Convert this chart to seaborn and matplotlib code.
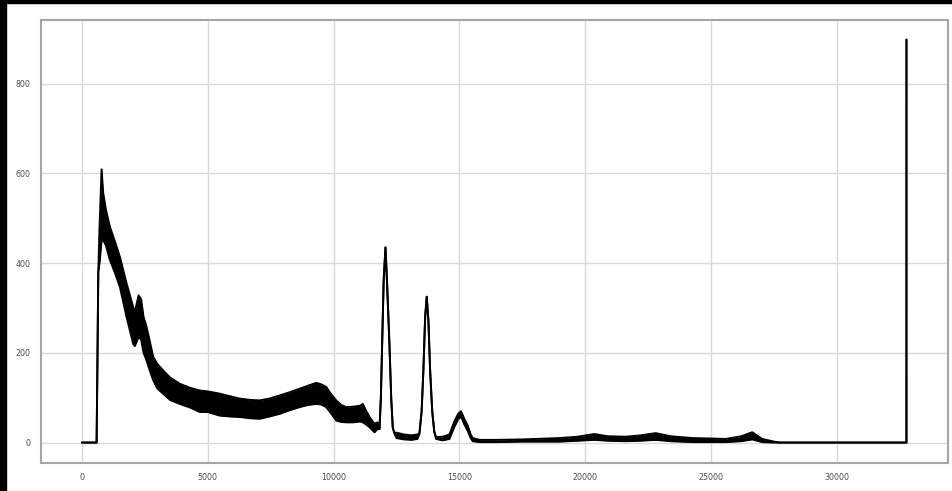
import matplotlib
matplotlib.use("Agg")
import matplotlib.pyplot as plt
from matplotlib.patches import Rectangle
import seaborn as sns
import numpy as np

# channel numbers and the lower / upper edge of the noisy count band
channel = [0, 583, 620, 650, 700, 781, 846, 950, 1111, 1300, 1508, 1773, 2037, 2100, 2250,
           2350, 2450, 2567, 2700, 2831, 3000, 3227, 3500, 3889, 4300, 4683, 5000, 5476,
           5900, 6270, 6700, 7063, 7450, 7857, 8250, 8650, 9000, 9312, 9500, 9709, 9900,
           10106, 10300, 10503, 10800, 11050, 11164, 11300, 11428, 11626, 11750,
           11825, 11880, 11930, 11990, 12063, 12130, 12221, 12290, 12353, 12420,
           12500, 12800, 13100, 13330,
           13412, 13500, 13570, 13640, 13703, 13770, 13836, 13920, 14000, 14073,
           14338, 14603, 14801, 14950, 15066, 15200, 15330, 15450, 15529,
           15800, 16500, 17500, 18500, 18968, 19700, 20357, 20900, 21612, 22200, 22803,
           23400, 24258, 25000, 25581, 26200, 26637, 27034, 27431, 27700, 32766, 32767]
count_low = [0, 0, 200, 380, 400, 450, 451, 440, 407, 380, 347, 280, 220, 215, 235,
             230, 200, 183, 160, 139, 120, 109, 95, 86, 78, 68, 68, 60,
             58, 57, 54, 53, 58, 64, 72, 79, 84, 86, 85, 79, 65,
             49, 46, 45, 45, 47, 45, 40, 34, 23, 30,
             30, 100, 218, 360, 435, 350, 218, 100, 33, 20,
             10, 7, 6, 8,
             20, 70, 162, 280, 325, 270, 162, 70, 25, 8,
             5, 8, 35, 52, 58, 40, 26, 10, 3,
             1, 1, 2, 2, 2, 4, 6, 4, 3, 4, 6,
             3, 1, 1, 1, 3, 7, 1, 0, 0, 0, 898]
count_high = [0, 0, 200, 380, 480, 609, 556, 520, 481, 450, 414, 355, 302, 290, 328,
              320, 280, 258, 225, 191, 175, 161, 145, 131, 122, 116, 114, 109,
              103, 98, 95, 94, 98, 105, 112, 120, 127, 133, 130, 124, 108,
              94, 84, 79, 80, 82, 86, 70, 57, 42, 45,
              30, 100, 218, 360, 435, 350, 218, 100, 33, 22,
              22, 18, 16, 18,
              20, 70, 162, 280, 325, 270, 162, 70, 25, 12,
              13, 18, 47, 64, 70, 52, 38, 18, 10,
              6, 6, 7, 9, 10, 13, 19, 14, 13, 16, 21,
              14, 10, 9, 8, 14, 23, 8, 3, 0, 0, 898]

x_ticks = [0, 5000, 10000, 15000, 20000, 25000, 30000]
y_ticks = [0, 200, 400, 600, 800]

sns.set_style("whitegrid", {"axes.edgecolor": ".65", "grid.color": ".85"})
plt.rcParams["font.family"] = ["DejaVu Sans"]

fig = plt.figure(figsize=(9.52, 4.91), dpi=100)
ax = fig.add_axes([40.7 / 952, 28.3 / 491, (947.7 - 40.7) / 952, (462.7 - 19.5) / 491])

ax.fill_between(channel, count_low, count_high, color="black", linewidth=0)
sns.lineplot(x=channel, y=count_high, color="black", linewidth=1.4, ax=ax, sort=False)
sns.lineplot(x=channel, y=count_low, color="black", linewidth=1.4, ax=ax, sort=False)

ax.set_xticks(x_ticks)
ax.set_yticks(y_ticks)
ax.set_xticklabels([str(t) for t in x_ticks])
ax.set_yticklabels([str(t) for t in y_ticks])
ax.margins(x=0.05, y=0.05)
ax.tick_params(labelsize=5.7, colors=".3", pad=4)
for s in ax.spines.values():
    s.set_linewidth(1.5)
ax.grid(True, linewidth=1.0)

# dark border strip along the left and top edges
fig.patches.append(Rectangle((0, 0), 6 / 952, 1, transform=fig.transFigure, color="black", zorder=10))
fig.patches.append(Rectangle((0, 1 - 3 / 491), 1, 3 / 491, transform=fig.transFigure, color="black", zorder=10))

fig.savefig("out.png", dpi=100, facecolor="white")
